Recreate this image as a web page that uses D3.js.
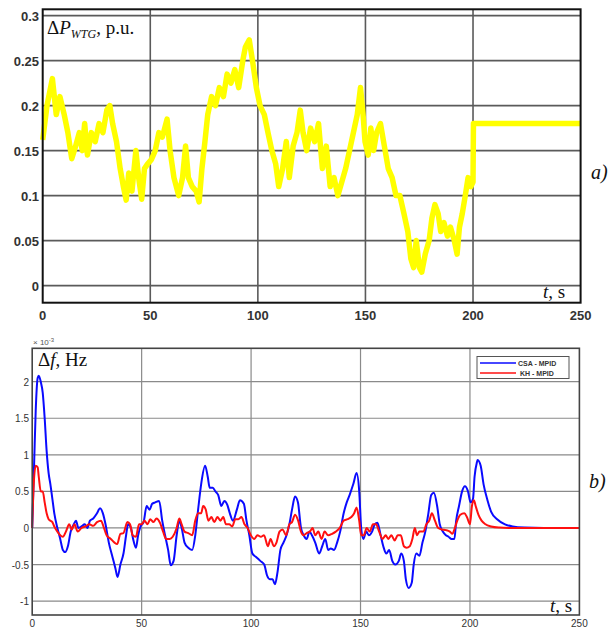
<!DOCTYPE html>
<html>
<head>
<meta charset="utf-8">
<script src="https://cdn.jsdelivr.net/npm/d3@7"></script>
<style>
  body { margin: 0; background: #fff; }
  svg { display: block; }
</style>
</head>
<body>
<div id="chart"></div>
<script>
// ---- data ----
// (a) wind turbine power deviation, p.u.
const windT = [0, 2, 4.5, 6.3, 8, 10, 11.7, 13.5, 15.3, 17, 18.4, 19.5, 20.8, 22.6, 24.4, 26.2, 28, 29.8, 31.2, 32.5,
  34.3, 36, 37.5, 38.8, 40, 41.5, 43.3, 44.6, 46, 47.3, 48.7, 50.5, 52.3, 54, 55.6, 57.8, 59.2, 61, 63.2, 65,
  66.4, 67.7, 69.5, 71.3, 72.7, 74, 75.4, 76.7, 78.5, 80.3, 82.1, 84, 85.7, 87.5, 89.3, 91.1, 93, 94.2, 96, 97.5,
  99.3, 101, 103, 104.7, 106.5, 108.3, 109.7, 111.5, 113.2, 114.6, 116.4, 118.2, 119.7, 121, 122.7, 124.5, 126.4, 128.2, 130, 131.8,
  133.6, 135.4, 137.2, 139, 140.8, 142.6, 144.4, 146.2, 147.7, 148.9, 149.8, 151.3, 152.5, 153.8, 155.2, 157, 158.8, 160.6, 162.4, 164.2,
  166, 167.9, 169.7, 171.1, 172.4, 173.6, 175.1, 176.2, 177.8, 179.6, 180.9, 182.3, 183.8, 185, 186.5, 188.1, 189.5, 191.3, 192.6, 193.7,
  195, 196.4, 197.7, 199, 200, 200.2, 250];
const windP = [0.162, 0.2, 0.23, 0.19, 0.21, 0.19, 0.17, 0.141, 0.155, 0.17, 0.15, 0.18, 0.145, 0.17, 0.16, 0.18, 0.17, 0.195, 0.2, 0.18,
  0.16, 0.13, 0.11, 0.095, 0.125, 0.105, 0.15, 0.12, 0.096, 0.13, 0.135, 0.14, 0.15, 0.17, 0.165, 0.185, 0.15, 0.12, 0.1, 0.12,
  0.155, 0.12, 0.11, 0.105, 0.093, 0.13, 0.16, 0.19, 0.21, 0.2, 0.22, 0.21, 0.235, 0.225, 0.24, 0.22, 0.25, 0.265, 0.273, 0.25,
  0.22, 0.2, 0.19, 0.17, 0.15, 0.135, 0.11, 0.13, 0.16, 0.12, 0.155, 0.17, 0.195, 0.17, 0.15, 0.175, 0.16, 0.18, 0.13, 0.155,
  0.11, 0.12, 0.1, 0.115, 0.13, 0.15, 0.17, 0.19, 0.22, 0.19, 0.16, 0.145, 0.175, 0.15, 0.17, 0.18, 0.155, 0.13, 0.12, 0.1,
  0.1, 0.08, 0.06, 0.03, 0.02, 0.05, 0.02, 0.015, 0.035, 0.05, 0.075, 0.09, 0.08, 0.06, 0.07, 0.055, 0.065, 0.05, 0.035, 0.065,
  0.08, 0.1, 0.12, 0.11, 0.115, 0.18, 0.18];

// (b) frequency deviation, x10^-3 Hz
const csaT = [0, 0.9, 1.6, 2.5, 3, 3.9, 4.8, 5.7, 6.6, 7.5, 8.3, 9.2, 10.1, 11.5, 12.8, 14, 15.1, 16.3, 17.6, 19,
  20, 21.1, 22.5, 24, 25.2, 26.4, 27.9, 29.6, 31, 32.3, 33.5, 35, 36.7, 38, 39, 40.3, 41.7, 42.9, 43.8, 45.1,
  46.1, 47.4, 48.4, 49.5, 50.9, 52.3, 53.6, 54.8, 56.2, 58, 59.4, 60.7, 62.1, 63.3, 64.6, 66, 67.2, 68.3, 69.6, 71.3,
  73.1, 74.5, 75.8, 77.2, 79, 80.2, 81.1, 82.5, 83.7, 85, 86.4, 87.8, 89.1, 90.3, 91.7, 93.5, 94.9, 96.7, 97.9, 99.2,
  100.6, 102.4, 104.2, 106, 107.3, 108.6, 109.8, 110.9, 112.1, 113.4, 114.8, 116.2, 117.5, 118.7, 120.1, 121.4, 122.8, 124, 125.4, 126.7,
  127.8, 129.3, 131.1, 132.5, 133.9, 135.2, 136.4, 137.9, 139.3, 140.7, 142.3, 143.7, 145, 146.7, 148.2, 149.4, 150.3, 151.3, 152.6, 153.8,
  155.3, 156.5, 157.7, 159.2, 160.4, 161.8, 163.1, 164.5, 165.9, 167.5, 168.6, 169.8, 170.7, 172, 173.4, 174.3, 175.5, 176.9, 178.3, 179.6,
  181, 182.3, 183.5, 185, 186.2, 187.6, 189, 190.2, 191.6, 192.9, 193.7, 195, 196.4, 197.7, 199.1, 200.3, 201.4, 202.1, 203.2, 203.5,
  204.9, 206.2, 208, 209.7, 212.4, 216, 219.5, 224.9, 233.7, 250];
const csaF = [0, 0.9, 1.6, 2.05, 2.08, 2.0, 1.85, 1.5, 1.05, 0.75, 0.6, 0.4, 0.2, 0, -0.15, -0.3, -0.33, -0.25, -0.05, 0.05,
  0.1, 0.0, 0.02, 0.05, 0.0, 0.1, 0.13, 0.2, 0.27, 0.2, 0.05, -0.2, -0.4, -0.55, -0.67, -0.5, -0.35, -0.1, 0.05, 0.0,
  -0.15, -0.27, -0.1, 0.02, 0.08, 0.3, 0.25, 0.33, 0.35, 0.37, 0.1, -0.1, -0.3, -0.51, -0.45, -0.1, 0.1, 0.0, -0.2, -0.27,
  -0.3, -0.1, 0.25, 0.6, 0.85, 0.7, 0.55, 0.55, 0.5, 0.45, 0.3, 0.37, 0.32, 0.2, 0.1, 0.25, 0.38, 0.33, 0.1, -0.1,
  -0.35, -0.4, -0.45, -0.5, -0.65, -0.7, -0.7, -0.77, -0.6, -0.3, -0.2, -0.1, 0.05, 0.25, 0.43, 0.35, 0.0, -0.1, -0.15, -0.05,
  -0.1, -0.2, -0.35, -0.25, -0.15, -0.3, -0.28, -0.3, -0.2, -0.05, 0.2, 0.35, 0.45, 0.6, 0.75, 0.5, 0.0, -0.15, -0.05, -0.1,
  -0.05, 0.05, 0.07, -0.1, -0.25, -0.35, -0.3, -0.45, -0.5, -0.45, -0.35, -0.45, -0.7, -0.82, -0.75, -0.5, -0.35, -0.38, -0.2, -0.05,
  0.2, 0.45, 0.48, 0.3, 0.05, -0.05, -0.1, -0.12, -0.15, -0.15, 0.1, 0.3, 0.5, 0.57, 0.5, 0.35, 0.4, 0.7, 0.9, 0.93,
  0.85, 0.6, 0.38, 0.22, 0.12, 0.05, 0.02, 0.005, 0, 0];

const khT = [0, 0.7, 1.6, 2.5, 3, 3.9, 4.8, 5.7, 6.6, 7.5, 8.3, 9.2, 10.1, 11.5, 12.8, 14, 15.4, 16.9, 18.1, 19.3,
  20.8, 22.5, 24.3, 26.1, 27.9, 29.6, 31.4, 32.8, 34, 35.9, 37.6, 38.8, 40.3, 41.7, 43.5, 44.7, 45.9, 47.4, 48.8, 50,
  51.3, 52.7, 53.9, 55.4, 56.8, 58.4, 59.8, 61.2, 62.8, 64.2, 66, 67.2, 68.3, 69.6, 71.3, 73.1, 74.5, 75.8, 77.2, 78.1,
  79.3, 80.5, 81.9, 83.2, 84.6, 86, 87.3, 88.5, 90, 91.4, 92.8, 94.2, 95.6, 97, 98.4, 99.9, 101.5, 102.9, 104.5, 105.9,
  107.7, 108.9, 110.4, 111.6, 113, 114.4, 116, 117.5, 118.7, 120.1, 121.5, 122.8, 124, 125.4, 126.9, 128.1, 129.3, 130.7, 132.2, 133.6,
  135.2, 137, 138.7, 140.5, 142.3, 144.1, 145.8, 147.1, 148.2, 149.4, 150.3, 151.5, 152.8, 154.2, 155.7, 157.1, 158.5, 160.1, 161.5, 162.7,
  164.1, 165.6, 167, 168.4, 169.8, 171, 172.5, 173.7, 174.8, 175.8, 176.9, 178.7, 180.1, 181.4, 182.6, 184, 185.5, 187.2, 189, 190.8,
  192, 192.9, 194.2, 195.6, 197.4, 198.6, 200, 200.9, 201.8, 202.6, 203.9, 205.3, 207.1, 209.7, 213.3, 217.7, 250];
const khF = [0, 0.6, 0.85, 0.83, 0.7, 0.5, 0.5, 0.35, 0.2, 0.12, 0.1, 0.08, 0.02, -0.05, -0.1, -0.12, -0.05, 0.05, -0.02, 0.05,
  -0.05, 0.0, 0.02, 0.05, 0.03, 0.08, 0.1, 0.0, -0.1, -0.15, -0.2, -0.22, -0.08, -0.07, 0.08, 0.05, -0.1, -0.12, 0.05, 0.05,
  0.1, 0.05, 0.12, 0.08, 0.13, 0.07, -0.05, -0.15, -0.15, -0.12, 0.0, 0.13, 0.05, -0.05, -0.07, -0.1, 0.1, 0.2, 0.2, 0.3,
  0.25, 0.1, 0.15, 0.08, 0.15, 0.1, 0.15, 0.05, 0.05, 0.02, 0.12, 0.12, 0.15, 0.05, 0.0, -0.1, -0.15, -0.1, -0.12, -0.1,
  -0.25, -0.15, -0.25, -0.2, -0.05, -0.02, -0.1, 0.05, 0.08, 0.18, 0.1, -0.05, -0.1, -0.07, -0.05, 0.0, -0.1, -0.05, -0.15, -0.05,
  -0.1, -0.08, -0.05, 0.0, 0.1, 0.12, 0.15, 0.2, 0.28, 0.1, -0.1, -0.1, 0.0, -0.05, 0.05, 0.05, -0.05, -0.15, -0.1, -0.15,
  -0.1, -0.17, -0.1, -0.1, -0.25, -0.27, -0.25, -0.15, 0.0, -0.1, -0.05, -0.05, 0.05, 0.1, 0.2, 0.1, 0.0, -0.02, -0.03, -0.05,
  -0.08, -0.02, 0.1, 0.18, 0.2, 0.15, 0.05, 0.3, 0.38, 0.3, 0.18, 0.1, 0.05, 0.02, 0.005, 0, 0];

const xTicks = [0, 50, 100, 150, 200, 250];
const windTicks = [0, 0.05, 0.1, 0.15, 0.2, 0.25, 0.3];
const freqTicks = [-1, -0.5, 0, 0.5, 1, 1.5, 2];
const legendNames = ["CSA - MPID", "KH - MPID"];

const svg = d3.select("#chart").append("svg")
  .attr("width", 609)
  .attr("height", 628)
  .style("background", "#fff");

function zip(t, v) { return t.map((d, i) => ({ t: d, v: v[i] })); }

// ===== panel a =====
const xa = d3.scaleLinear().domain([0, 250]).range([42.7, 580.6]);
const ya = d3.scaleLinear().domain([-0.019, 0.307]).range([302.7, 9.3]);

const ga = svg.append("g");
// grid
ga.selectAll(".gx").data(xTicks.slice(1, -1)).enter().append("line")
  .attr("x1", d => xa(d)).attr("x2", d => xa(d))
  .attr("y1", ya.range()[0]).attr("y2", ya.range()[1])
  .attr("stroke", "#5a5a5a").attr("stroke-width", 1.6);
ga.selectAll(".gy").data(windTicks).enter().append("line")
  .attr("x1", xa.range()[0]).attr("x2", xa.range()[1])
  .attr("y1", d => ya(d)).attr("y2", d => ya(d))
  .attr("stroke", "#5a5a5a").attr("stroke-width", 1.6);

ga.append("path")
  .datum(zip(windT, windP))
  .attr("fill", "none")
  .attr("stroke", "#ffff00")
  .attr("stroke-width", 5.5)
  .attr("stroke-linejoin", "round")
  .attr("d", d3.line().x(d => xa(d.t)).y(d => ya(d.v)));

ga.append("rect")
  .attr("x", xa.range()[0]).attr("y", ya.range()[1])
  .attr("width", xa.range()[1] - xa.range()[0])
  .attr("height", ya.range()[0] - ya.range()[1])
  .attr("fill", "none").attr("stroke", "#111").attr("stroke-width", 2);

// tick labels
ga.selectAll(".tx").data(xTicks).enter().append("text")
  .attr("x", d => xa(d)).attr("y", 320)
  .attr("text-anchor", "middle")
  .style("font", "bold 13px Arial, 'Liberation Sans', sans-serif")
  .attr("fill", "#333")
  .text(d => d);
ga.selectAll(".ty").data(windTicks).enter().append("text")
  .attr("x", 39).attr("y", d => ya(d) + 5)
  .attr("text-anchor", "end")
  .style("font", "bold 13px Arial, 'Liberation Sans', sans-serif")
  .attr("fill", "#333")
  .text(d => d);

const titleA = ga.append("text")
  .attr("x", 47).attr("y", 34)
  .style("font-family", "'Liberation Serif', 'Times New Roman', serif")
  .style("font-size", "19px")
  .attr("fill", "#111");
titleA.append("tspan").text("Δ");
titleA.append("tspan").style("font-style", "italic").text("P");
titleA.append("tspan").style("font-style", "italic").style("font-size", "12px").attr("dy", 4).text("WTG");
titleA.append("tspan").attr("dy", -4).text(", p.u.");

const tA = ga.append("text")
  .attr("x", 543).attr("y", 298)
  .style("font-family", "'Liberation Serif', 'Times New Roman', serif")
  .style("font-size", "19px").attr("fill", "#111");
tA.append("tspan").style("font-style", "italic").text("t");
tA.append("tspan").text(", s");

ga.append("text")
  .attr("x", 591).attr("y", 179)
  .style("font-family", "'Liberation Serif', 'Times New Roman', serif")
  .style("font-size", "20px").style("font-style", "italic").attr("fill", "#111")
  .text("a)");

// ===== panel b =====
const xb = d3.scaleLinear().domain([0, 250]).range([32.2, 579.4]);
const yb = d3.scaleLinear().domain([-1.19, 2.456]).range([615, 348.3]);

const gb = svg.append("g");
gb.selectAll(".gx").data(xTicks.slice(1, -1)).enter().append("line")
  .attr("x1", d => xb(d)).attr("x2", d => xb(d))
  .attr("y1", yb.range()[0]).attr("y2", yb.range()[1])
  .attr("stroke", "#8a8a8a").attr("stroke-width", 1.2);
gb.selectAll(".gy").data(freqTicks).enter().append("line")
  .attr("x1", xb.range()[0]).attr("x2", xb.range()[1])
  .attr("y1", d => yb(d)).attr("y2", d => yb(d))
  .attr("stroke", "#8a8a8a").attr("stroke-width", 1.2);

const lineB = d3.line().curve(d3.curveMonotoneX).x(d => xb(d.t)).y(d => yb(d.v));
gb.append("path")
  .datum(zip(csaT, csaF))
  .attr("fill", "none").attr("stroke", "#0a0aff").attr("stroke-width", 2)
  .attr("d", lineB);
gb.append("path")
  .datum(zip(khT, khF))
  .attr("fill", "none").attr("stroke", "#ff1010").attr("stroke-width", 2)
  .attr("d", lineB);

gb.append("rect")
  .attr("x", xb.range()[0]).attr("y", yb.range()[1])
  .attr("width", xb.range()[1] - xb.range()[0])
  .attr("height", yb.range()[0] - yb.range()[1])
  .attr("fill", "none").attr("stroke", "#444").attr("stroke-width", 1.6);

gb.selectAll(".tx").data(xTicks).enter().append("text")
  .attr("x", d => xb(d)).attr("y", 627)
  .attr("text-anchor", "middle")
  .style("font", "10px Arial, 'Liberation Sans', sans-serif")
  .attr("fill", "#333")
  .text(d => d);
gb.selectAll(".ty").data(freqTicks).enter().append("text")
  .attr("x", 29).attr("y", d => yb(d) + 4)
  .attr("text-anchor", "end")
  .style("font", "10px Arial, 'Liberation Sans', sans-serif")
  .attr("fill", "#333")
  .text(d => d);

const expo = gb.append("text")
  .attr("x", 33).attr("y", 345)
  .style("font", "8px Arial, 'Liberation Sans', sans-serif")
  .attr("fill", "#555");
expo.append("tspan").text("× 10");
expo.append("tspan").attr("dy", -3).style("font-size", "6px").text("-3");

const titleB = gb.append("text")
  .attr("x", 38).attr("y", 366)
  .style("font-family", "'Liberation Serif', 'Times New Roman', serif")
  .style("font-size", "19px").attr("fill", "#111");
titleB.append("tspan").text("Δ");
titleB.append("tspan").style("font-style", "italic").text("f");
titleB.append("tspan").text(", Hz");

const tB = gb.append("text")
  .attr("x", 550).attr("y", 612)
  .style("font-family", "'Liberation Serif', 'Times New Roman', serif")
  .style("font-size", "19px").attr("fill", "#111");
tB.append("tspan").style("font-style", "italic").text("t");
tB.append("tspan").text(", s");

gb.append("text")
  .attr("x", 589).attr("y", 488)
  .style("font-family", "'Liberation Serif', 'Times New Roman', serif")
  .style("font-size", "20px").style("font-style", "italic").attr("fill", "#111")
  .text("b)");

// legend
const leg = gb.append("g").attr("transform", "translate(477,356.5)");
leg.append("rect").attr("width", 92).attr("height", 22)
  .attr("fill", "#fff").attr("stroke", "#555").attr("stroke-width", 1);
const legColors = ["#0a0aff", "#ff1010"];
legendNames.forEach((name, i) => {
  const yy = 6.5 + i * 10;
  leg.append("line").attr("x1", 3).attr("x2", 39).attr("y1", yy).attr("y2", yy)
    .attr("stroke", legColors[i]).attr("stroke-width", 1.6);
  leg.append("text").attr("x", 41 + (i ? 2 : 0)).attr("y", yy + 2.5)
    .style("font", "bold 7px Arial, 'Liberation Sans', sans-serif")
    .attr("fill", "#333")
    .text(name);
});
</script>
</body>
</html>
